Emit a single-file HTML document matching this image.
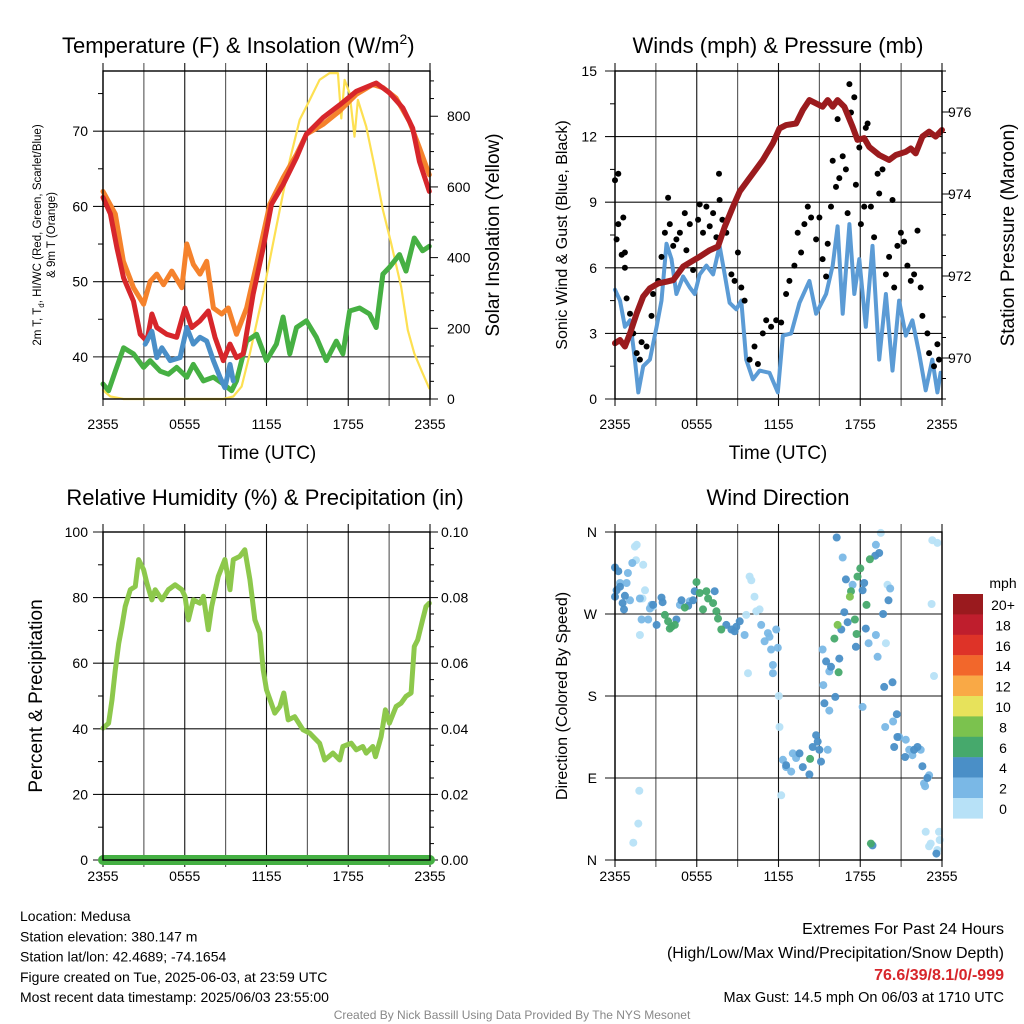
<!DOCTYPE html>
<html><head><meta charset="utf-8"><style>
html,body{margin:0;padding:0;background:#fff;}
svg{display:block;font-family:"Liberation Sans",Arial,sans-serif;}
</style></head><body>
<svg id="c" width="1024" height="1024" viewBox="0 0 1024 1024" xmlns="http://www.w3.org/2000/svg"></svg>
<script>
// ===== Panel 1 data: temperature (F) and insolation =====
const t9Hours=[0,0.9,1.5,2.24,2.98,3.46,3.95,4.44,5.05,5.78,6.15,6.63,7.12,7.61,8.1,8.71,9.2,9.8,10.54,11.27,12.24,13.22,14.2,14.93,16.15,17.37,18.59,19.8,20.54,21.51,22.49,23.22,23.95];
const t9Vals=[62,59,52.7,49.2,47,50,51,49.6,51.4,49.2,55,52.3,51,52.7,46.5,45.7,46.5,43,46.5,52.3,60.3,63.8,66.9,69.6,70.9,72.7,74.9,76.2,75.8,74.4,71.3,67.8,64.2];
const t2Hours=[0,0.54,1.02,1.51,2.24,2.73,3.22,3.59,3.95,4.68,5.41,6.02,6.51,7.12,7.73,8.22,8.83,9.32,9.8,10.29,11.02,11.76,12.37,13.22,14.2,14.93,16.15,17.37,18.59,20.05,21.02,22,22.73,23.22,23.95];
const t2Vals=[61.2,59,54.5,50.5,47.4,43,42.1,45.7,43.9,43,42.6,46.5,43.9,44.8,46.1,42.6,39.5,41.7,39.9,40.4,48.3,54.5,60.3,62.9,66.5,69.6,71.8,73.5,75.3,76.4,75.1,73.1,70.4,66,62];
const wcHours=[3.1,3.59,3.95,4.32,4.93,5.66,6.15,6.63,7.12,7.61,8.1,8.59,8.95,9.32,9.56];
const wcVals=[41.7,43.4,39.9,41.2,39.5,39.9,43.9,41.7,42.6,42.1,39.5,37.3,35.9,39,36.8];
const tdHours=[0,0.41,0.9,1.51,2.24,2.98,3.46,4.2,4.8,5.41,6.15,6.63,7.37,8.1,8.83,9.44,9.8,10.54,11.27,12,12.73,13.22,13.71,14.2,14.93,15.66,16.39,17.12,17.61,18.1,18.83,19.56,20.05,20.54,21.02,21.76,22.24,22.85,23.46,23.95];
const tdVals=[36.4,35.5,38.1,41.2,40.4,38.6,39.5,38.1,37.7,38.6,37.3,39,36.8,37.3,36.4,35.5,36.8,42.1,43,39.5,41.7,45.3,40.4,43.9,44.8,42.6,39.5,42.1,40.4,46.1,46.5,45.7,43.9,51,51.9,53.6,51.4,55.8,54.1,54.7];
const solHours=[0,0.54,1.51,8.83,9.56,10.17,10.78,11.76,12.73,13.71,14.44,15.17,15.9,16.63,17.24,17.49,17.73,18.1,18.46,18.71,19.32,19.93,20.54,21.15,21.88,22.37,22.85,23.46,23.95];
const solVals=[25,7,0,0,7,35,129,299,488,676,790,846,903,922,922,794,903,865,742,846,771,658,535,440,318,195,129,73,30];
const tempTicks=[40,50,60,70];
const solTicks=[0,200,400,600,800];
const timeLabels=["2355","0555","1155","1755","2355"];

// ===== Panel 2 data: winds and pressure =====
const windHours=[0,0.37,0.73,1.1,1.46,1.71,2.07,2.56,3.05,3.41,3.78,4.15,4.51,5,5.49,5.85,6.22,6.71,7.2,7.68,8.05,8.41,8.9,9.27,9.63,10.12,10.61,11.34,11.95,12.32,12.93,13.54,14.27,14.76,15.49,15.98,16.34,16.71,17.2,17.56,17.93,18.41,18.9,19.39,19.88,20.37,20.85,21.34,21.83,22.32,22.8,23.29,23.66,23.9];
const windVals=[5,4.5,3.3,3.6,1.8,0.3,1.5,1.8,3.3,4.5,7.1,6.4,4.8,5.6,5.1,4.8,5.7,6.1,5.7,7,5.7,4.4,4.1,4.5,1.8,0.9,1.3,1.2,0.3,2.9,3,4.4,5.4,3.9,4.8,6.1,7.9,3.9,8,4.8,6.4,3.3,7,1.8,4.8,1.3,4.5,2.9,3.6,2.1,0.4,1.8,0.3,1.2];
const gustHours=[0,0.24,0.12,0.24,0.61,0.49,0.73,0.73,0.85,1.1,1.34,1.59,1.83,1.95,2.32,2.68,2.8,3.17,3.41,3.66,3.9,4.02,4.27,4.51,4.76,5.12,5.24,5.49,5.73,6.1,6.22,6.46,6.71,6.95,7.2,7.44,7.63,7.68,7.88,8.17,8.54,8.78,9.02,9.27,9.51,9.88,10.24,10.49,10.85,11.1,11.46,11.83,12.2,12.56,12.8,13.17,13.41,13.66,13.9,14.15,14.39,14.76,15,15.24,15.49,15.61,15.85,15.98,16.22,16.34,16.46,16.71,16.95,17.07,17.2,17.32,17.56,17.68,17.93,18.05,18.29,18.41,18.54,18.78,19.02,19.27,19.39,19.63,19.88,20.12,20.37,20.49,20.73,20.98,21.22,21.46,21.71,21.95,22.2,22.44,22.56,22.93,23.05,23.41,23.66,23.78];
const gustVals=[10,10.3,7.3,8,8.3,6.6,6.7,6,4.6,3.9,3,2.1,1.8,2.6,2.4,3.8,4.8,5.4,6.5,7.6,9.2,8,7,7.3,7.6,8.5,6.8,8,5.9,8.2,8.9,7.6,8.8,7.9,8.5,7.4,10.3,9.1,8.2,7.6,5.7,5.4,6.7,5.1,4.5,1.8,2.4,1.6,3,3.6,3.3,3.6,3.5,4.8,5.4,6.1,7.6,6.7,8,8.8,8.3,7.3,8.3,6.4,5.6,7.1,8.8,10.9,9.7,12.8,10.1,11.1,10.5,8.5,14.4,13.1,13.8,9.8,11.5,8,8.8,12.4,12.6,8.8,7.4,10.3,9.4,10.5,5.7,6.5,9.1,5.1,7,7.6,7.2,6.1,5.4,5.7,7.7,5.1,3.8,3,2.1,1.5,2.5,1.8];
const presHours=[0,0.37,0.73,1.1,1.59,2.07,2.56,3.17,3.78,4.27,5,5.61,6.22,6.95,7.56,8.05,8.66,9.15,9.76,10.12,10.85,11.59,12.07,12.56,13.29,13.78,14.27,14.76,15.24,15.61,15.98,16.34,16.83,17.44,17.8,18.29,18.66,19.39,20.12,20.61,21.34,21.71,22.07,22.56,23.05,23.54,24];
const presVals=[970.36,970.44,970.28,970.6,971.09,971.5,971.7,971.82,971.86,971.9,972.23,972.35,972.47,972.63,972.72,973.2,973.69,974.06,974.34,974.5,974.83,975.24,975.6,975.68,975.72,976.05,976.29,976.21,976.13,976.29,976.13,976.29,976.13,975.64,975.32,975.36,975.15,974.95,974.83,974.95,975.03,975.11,974.99,975.4,975.52,975.4,975.56];
const windTicks=[0,3,6,9,12,15];
const presTicks=[970,972,974,976];

// ===== Panel 3 data: RH and precipitation =====
const rhHours=[0,0.41,0.66,0.9,1.15,1.39,1.63,2,2.37,2.61,2.98,3.22,3.59,3.83,4.32,4.8,5.29,5.78,6.02,6.27,6.63,7.12,7.37,7.73,7.98,8.46,8.95,9.32,9.56,10.05,10.41,10.78,11.15,11.51,11.76,12,12.61,12.98,13.27,13.59,14.07,14.68,15.17,15.9,16.27,16.88,17.37,17.61,18.22,18.59,19.07,19.32,19.8,20,20.41,20.73,21.02,21.51,21.88,22.24,22.61,22.85,23.1,23.46,23.71,23.95];
const rhVals=[40.2,41.7,48.8,58,66,71.2,77.3,82.4,83.4,91.6,88.5,84.4,79.3,82.4,79.3,82.4,83.9,82.4,80.4,73.2,79.3,78.3,80.4,70.2,77.3,86.5,91.6,82.4,91.6,92.6,94.6,85.5,73.2,69.2,58,51.9,44.8,46.8,50.9,42.7,43.7,39.7,38.7,35.6,30.5,32.6,30.5,34.6,35.6,33.6,34.6,32.6,34.6,31.5,37.6,45.8,41.7,46.8,47.8,49.9,50.9,65.1,67.1,73.2,77.3,78.3];
const precipHours=[0,24];
const precipVals=[0,0];
const rhTicks=[0,20,40,60,80,100];
const precipTicks=["0.00","0.02","0.04","0.06","0.08","0.10"];

// ===== Panel 4 data: wind direction =====
const dirHours=[1.46,1.59,1.54,2.07,1.83,2.2,2.02,2.8,9.88,10,10.24,9.76,10.61,10.37,9.63,12.02,12.07,12.2,1.78,1.71,1.34,19.88,20,23.24,23.41,23.29,23.66,22.8,23.17,23.05,23.78,23.83,19.51,23.66,
1.27,0.95,0.85,1.1,2.56,2.68,1.95,2.44,4.76,5.49,9.51,10.73,10.98,11.22,11.34,11.46,11.83,11.95,11.59,11.59,12.32,12.56,12.93,13.05,13.29,15.61,15.24,15.73,15.29,15.73,16.71,17.44,18.17,19.15,18.61,19.27,19.83,20.41,19.15,20.2,20.85,21.34,21.59,21.83,22.44,22.68,22.76,23.05,0.37,1.83,
0,0.24,0,0.12,0.37,0.56,0.73,0.66,3.05,3.41,3.49,2.8,4.51,4.88,5.37,5.73,5.85,7.32,8.17,8.54,8.9,9.15,8.78,12.56,13.54,13.78,14.27,14.51,14.76,14.88,15,15.12,15.49,15.85,15.37,16.17,16.27,16.95,16.83,17.07,16.61,17.68,16.46,18.29,18.17,18.41,19.68,19.39,19.1,20.07,20.37,19.76,20.68,20.49,20.73,21.29,21.95,22.2,22.56,22.93,23.59,18.9,
5.98,6.22,6.71,6.83,6.46,7.2,7.44,7.56,7.8,3.66,3.9,4.15,4.02,4.39,5.12,14.32,16.1,16.41,17.61,17.73,18,17.8,18.46,18.71,18.78,17.32,
16.34,17.24];
const dirDegs=[344,346,329,324,247,296,287,278,311,307,289,205,275,273,269,180,146,71,76,40,19,238,302,281,202,351,348,31,18,15,31,22,359,11,
326,315,304,285,276,280,264,264,280,284,247,258,240,249,245,231,253,233,214,205,110,102,97,117,112,121,231,207,192,164,332,302,168,247,238,223,146,152,346,298,135,132,121,115,121,84,81,93,304,287,
321,317,289,296,300,282,290,275,258,288,283,280,264,285,279,285,295,295,258,253,256,262,251,104,117,102,94,124,137,130,121,108,218,212,172,179,354,308,272,261,253,234,221,304,296,254,270,337,334,285,195,190,160,124,135,113,121,124,103,90,7,16,
305,293,295,287,275,282,273,265,253,269,262,256,254,258,277,111,243,206,264,248,320,311,280,330,18,295,
258,289];
const dirSpeeds=[1,1,1,1,1,1,1,1,1,1,1,1,1,1,1,1,1,1,1,1,1,1,1,1,1,1,1,1,1,1,1,1,1,1,
3,3,3,3,3,3,3,3,3,3,3,3,3,3,3,3,3,3,3,3,3,3,3,3,3,3,3,3,3,3,3,3,3,3,3,3,3,3,3,3,3,3,3,3,3,3,3,3,3,3,
5,5,5,5,5,5,5,5,5,5,5,5,5,5,5,5,5,5,5,5,5,5,5,5,5,5,5,5,5,5,5,5,5,5,5,5,5,5,5,5,5,5,5,5,5,5,5,5,5,5,5,5,5,5,5,5,5,5,5,5,5,5,
7,7,7,7,7,7,7,7,7,7,7,7,7,7,7,7,7,7,7,7,7,7,7,7,7,7,
9,9];
const dirLabels=["N","E","S","W","N"];
const dirTickVals=[0,90,180,270,360];
const legendLabels=["20+","18","16","14","12","10","8","6","4","2","0"];
const legendColors=["#9a1a1e","#bf1e2d","#de3328","#f2672b","#f9a946","#e7e25b","#7bc24e","#46a96c","#4a8fc7","#7ab8e6","#b7e1f7"];

// ===== helpers =====
const NS="http://www.w3.org/2000/svg";
const svg=document.getElementById('c');
function el(tag,attrs,parent){const e=document.createElementNS(NS,tag);for(const k in attrs)e.setAttribute(k,attrs[k]);(parent||svg).appendChild(e);return e;}
function txt(s,x,y,size,anchor,name,extra){const t=el('text',Object.assign({x:x,y:y,'font-size':size,'text-anchor':anchor||'middle',fill:'#000'},extra||{}));t.textContent=s;


return t;}
function mkScale(p){return {x:h=>p.x0+h/24*(p.x1-p.x0),y:(v,mn,mx)=>p.y1-(v-mn)/(mx-mn)*(p.y1-p.y0)};}
function grid(p,yVals,mn,mx,name){
  const g=el('g',{});
  
  
  const s=mkScale(p);
  for(let h=0;h<=24;h+=3){const x=s.x(h);el('line',{x1:x,x2:x,y1:p.y0-8,y2:p.y1+7,stroke:(h%6? '#555':'#111'),'stroke-width':1.1},g);}
  yVals.forEach(v=>{const y=s.y(v,mn,mx);el('line',{x1:p.x0-10,x2:p.x1,y1:y,y2:y,stroke:'#111','stroke-width':1.1},g);});
}
function frame(p,name){const r=el('rect',{x:p.x0,y:p.y0,width:p.x1-p.x0,height:p.y1-p.y0,fill:'none',stroke:'#000','stroke-width':1.4});

}
function xLabels(p,yb,name){const s=mkScale(p);timeLabels.forEach((l,i)=>{txt(l,s.x(i*6),yb,14,'middle',name+'-x-tick-label');});}
function line(p,hs,vs,mn,mx,color,w,name){const s=mkScale(p);const pts=hs.map((h,i)=>s.x(h).toFixed(1)+','+s.y(vs[i],mn,mx).toFixed(1)).join(' ');
const pl=el('polyline',{points:pts,fill:'none',stroke:color,'stroke-width':w,'stroke-linejoin':'round','stroke-linecap':'round'});

return pl;}
function leftMinor(p,vals,mn,mx){const s=mkScale(p);vals.forEach(v=>{const y=s.y(v,mn,mx);el('line',{x1:p.x0-5,x2:p.x0,y1:y,y2:y,stroke:'#000','stroke-width':1});});}

// ===== Panel 1 =====
const P1={x0:103,x1:430,y0:71,y1:399};
const s1=mkScale(P1);
const T_MIN=34.4,T_MAX=78.0,S_MIN=0,S_MAX=928;
grid(P1,tempTicks,T_MIN,T_MAX,'temperature');
leftMinor(P1,[45,55,65,75],T_MIN,T_MAX);
for(let v=0;v<=900;v+=50){const y=s1.y(v,S_MIN,S_MAX);el('line',{x1:P1.x1,x2:P1.x1+(v%200===0?8:4),y1:y,y2:y,stroke:'#000','stroke-width':1});}
line(P1,solHours,solVals,S_MIN,S_MAX,'#fde052',2.2,'solar-insolation-line');
line(P1,tdHours,tdVals,T_MIN,T_MAX,'#46b043',5,'dewpoint-line');
line(P1,t9Hours,t9Vals,T_MIN,T_MAX,'#f5822c',5,'temp-9m-line');
line(P1,t2Hours,t2Vals,T_MIN,T_MAX,'#d7262b',5,'temp-2m-line');
line(P1,wcHours,wcVals,T_MIN,T_MAX,'#4a8fc8',5,'windchill-line');
frame(P1,'temperature');
tempTicks.forEach(v=>txt(String(v),88,s1.y(v,T_MIN,T_MAX)+5,14,'end','temp-tick-label'));
solTicks.forEach(v=>txt(String(v),447,s1.y(v,S_MIN,S_MAX)+5,14,'start','solar-tick-label'));
xLabels(P1,429,'temperature');
const t1=txt('Temperature (F) & Insolation (W/m',62,53,22,'start','temperature-title');
const sup=el('tspan',{'font-size':14,dy:-9},t1);sup.textContent='2';
const sup2=el('tspan',{dy:9},t1);sup2.textContent=')';
txt('Time (UTC)',267,459,19,'middle','temperature-x-title');
const yl=txt('',0,0,11.5,'middle','temperature-y-title',{transform:'translate(41,235) rotate(-90)'});
yl.innerHTML='2m T, T<tspan font-size="8" dy="3">d</tspan><tspan dy="-3">, HI/WC (Red, Green, Scarlet/Blue)</tspan>';
txt('& 9m T (Orange)',0,0,11.5,'middle','temperature-y-title-2',{transform:'translate(55,235) rotate(-90)'});
txt('Solar Insolation (Yellow)',0,0,19,'middle','solar-y-title',{transform:'translate(499,235) rotate(-90)'});

// ===== Panel 2 =====
const P2={x0:615,x1:942,y0:71,y1:399};
const s2=mkScale(P2);
const W_MIN=0,W_MAX=15,PR_MIN=969,PR_MAX=977;
grid(P2,windTicks,W_MIN,W_MAX,'winds');
leftMinor(P2,[1.5,4.5,7.5,10.5,13.5],W_MIN,W_MAX);
for(let v=969;v<=977.001;v+=0.5){const y=s2.y(v,PR_MIN,PR_MAX);el('line',{x1:P2.x1,x2:P2.x1+(Math.abs(v%2)<1e-6&&v>=970?8:4),y1:y,y2:y,stroke:'#000','stroke-width':1});}
line(P2,windHours,windVals,W_MIN,W_MAX,'#5b9bd5',4,'sonic-wind-line');
gustHours.forEach((h,i)=>{const c=el('circle',{cx:s2.x(h).toFixed(1),cy:s2.y(gustVals[i],W_MIN,W_MAX).toFixed(1),r:3,fill:'#000'});

});
line(P2,presHours,presVals,PR_MIN,PR_MAX,'#9b1b1e',6,'pressure-line');
frame(P2,'winds');
windTicks.forEach(v=>txt(String(v),597,s2.y(v,W_MIN,W_MAX)+5,14,'end','wind-tick-label'));
presTicks.forEach(v=>txt(String(v),948,s2.y(v,PR_MIN,PR_MAX)+5,14,'start','pressure-tick-label'));
xLabels(P2,429,'winds');
txt('Winds (mph) & Pressure (mb)',778,53,22,'middle','winds-title');
txt('Time (UTC)',778,459,19,'middle','winds-x-title');
txt('Sonic Wind & Gust (Blue, Black)',0,0,16,'middle','wind-y-title',{transform:'translate(567,235) rotate(-90)'});
txt('Station Pressure (Maroon)',0,0,19,'middle','pressure-y-title',{transform:'translate(1014,235) rotate(-90)'});

// ===== Panel 3 =====
const P3={x0:103,x1:430,y0:532,y1:860};
const s3=mkScale(P3);
grid(P3,rhTicks,0,100,'humidity');
leftMinor(P3,[10,30,50,70,90],0,100);
for(let v=0;v<=100.001;v+=5){const y=s3.y(v,0,100);el('line',{x1:P3.x1,x2:P3.x1+(v%20===0?8:4),y1:y,y2:y,stroke:'#000','stroke-width':1});}
line(P3,rhHours,rhVals,0,100,'#8dc84c',5,'rh-line');
line(P3,precipHours,precipVals,0,0.1,'#45b043',10,'precip-line');
frame(P3,'humidity');
rhTicks.forEach(v=>txt(String(v),88,s3.y(v,0,100)+5,14,'end','rh-tick-label'));
precipTicks.forEach((l,i)=>txt(l,441,s3.y(i*20,0,100)+5,14,'start','precip-tick-label'));
xLabels(P3,881,'humidity');
txt('Relative Humidity (%) & Precipitation (in)',265,505,22,'middle','humidity-title');
txt('Percent & Precipitation',0,0,19,'middle','humidity-y-title',{transform:'translate(42,696) rotate(-90)'});

// ===== Panel 4 =====
const P4={x0:615,x1:942,y0:532,y1:860};
const s4=mkScale(P4);
grid(P4,dirTickVals,0,360,'direction');
function speedColor(v){const idx=Math.min(10,Math.floor(v/2));return legendColors[10-idx];}
dirHours.forEach((h,i)=>{const c=el('circle',{cx:s4.x(h).toFixed(1),cy:s4.y(dirDegs[i],0,360).toFixed(1),r:4,fill:speedColor(dirSpeeds[i]),'fill-opacity':0.95});

});
frame(P4,'direction');
dirTickVals.forEach((v,i)=>txt(dirLabels[i],597,s4.y(v,0,360)+5,14,'end','direction-tick-label'));
xLabels(P4,881,'direction');
txt('Wind Direction',778,505,22,'middle','direction-title');
txt('Direction (Colored By Speed)',0,0,16,'middle','direction-y-title',{transform:'translate(567,696) rotate(-90)'});
// legend
const lg=el('g',{});


txt('mph',1003,588,14,'middle','legend-title');
legendColors.forEach((c,i)=>{const y=594+i*20.4;const r=el('rect',{x:953,y:y,width:30,height:20.6,fill:c},lg);


txt(legendLabels[i],1003,y+16,14,'middle','legend-label');});

// ===== footer text =====
const info=["Location: Medusa","Station elevation: 380.147 m","Station lat/lon: 42.4689; -74.1654","Figure created on Tue, 2025-06-03, at 23:59 UTC","Most recent data timestamp: 2025/06/03 23:55:00"];
info.forEach((s,i)=>txt(s,20,921+i*20.3,14,'start','station-info-line'));
txt('Extremes For Past 24 Hours',1004,934,16,'end','extremes-title');
txt('(High/Low/Max Wind/Precipitation/Snow Depth)',1004,958,16,'end','extremes-subtitle');
txt('76.6/39/8.1/0/-999',1004,980,16,'end','extremes-values',{fill:'#d7262b','font-weight':'bold'});
txt('Max Gust: 14.5 mph On 06/03 at 1710 UTC',1004,1002,14.5,'end','max-gust-text');
txt('Created By Nick Bassill Using Data Provided By The NYS Mesonet',512,1019,12,'middle','credit-text',{fill:'#888'});
</script>
</body></html>
